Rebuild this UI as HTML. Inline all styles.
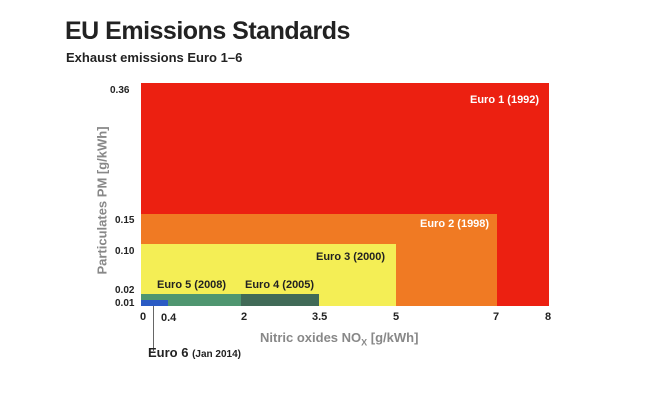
<!DOCTYPE html>
<html><head><style>
body{margin:0;background:#fff;width:650px;height:400px;overflow:hidden;position:relative;font-family:"Liberation Sans",Arial,sans-serif}
.a{position:absolute}
.b{font-weight:bold}
</style></head><body>
<div class="a b" style="left:65px;top:17px;font-size:25px;color:#222;letter-spacing:-0.5px">EU Emissions Standards</div>
<div class="a b" style="left:66px;top:50px;font-size:13px;color:#222">Exhaust emissions Euro 1–6</div>
<div class="a" style="left:141px;top:83px;width:408px;height:223px;background:#ec2011"></div>
<div class="a" style="left:141px;top:214px;width:356px;height:92px;background:#f07a23"></div>
<div class="a" style="left:141px;top:244px;width:255px;height:62px;background:#f4ee55"></div>
<div class="a" style="left:141px;top:294px;width:100px;height:12px;background:#4f9670"></div>
<div class="a" style="left:241px;top:294px;width:78px;height:12px;background:#416a57"></div>
<div class="a" style="left:141px;top:300px;width:27px;height:6px;background:#2b5bc4"></div>
<div class="a" style="left:153px;top:306px;width:1px;height:45px;background:#666"></div>
<div class="a b" style="left:470px;top:94px;font-size:11px;color:#fff">Euro 1 (1992)</div>
<div class="a b" style="left:420px;top:218px;font-size:11px;color:#fff">Euro 2 (1998)</div>
<div class="a b" style="left:316px;top:251px;font-size:11px;color:#222">Euro 3 (2000)</div>
<div class="a b" style="left:157px;top:279px;font-size:11px;color:#222">Euro 5 (2008)</div>
<div class="a b" style="left:245px;top:279px;font-size:11px;color:#222">Euro 4 (2005)</div>
<div class="a b" style="left:148px;top:345px;font-size:13px;color:#222">Euro 6 <span style="font-size:10px">(Jan 2014)</span></div>
<div class="a b" style="left:110px;top:85px;font-size:10px;color:#222">0.36</div>
<div class="a b" style="left:115px;top:215px;font-size:10px;color:#222">0.15</div>
<div class="a b" style="left:115px;top:246px;font-size:10px;color:#222">0.10</div>
<div class="a b" style="left:115px;top:285px;font-size:10px;color:#222">0.02</div>
<div class="a b" style="left:115px;top:298px;font-size:10px;color:#222">0.01</div>
<div class="a b" style="left:140px;top:311px;font-size:11px;color:#222">0</div>
<div class="a b" style="left:161px;top:312px;font-size:11px;color:#222">0.4</div>
<div class="a b" style="left:241px;top:311px;font-size:11px;color:#222">2</div>
<div class="a b" style="left:312px;top:311px;font-size:11px;color:#222">3.5</div>
<div class="a b" style="left:393px;top:311px;font-size:11px;color:#222">5</div>
<div class="a b" style="left:493px;top:311px;font-size:11px;color:#222">7</div>
<div class="a b" style="left:545px;top:311px;font-size:11px;color:#222">8</div>
<div class="a b" style="left:260px;top:330px;font-size:13px;color:#888">Nitric oxides NO<sub style="font-size:9px">X</sub> [g/kWh]</div>
<div class="a b" style="left:27px;top:193px;width:150px;text-align:center;font-size:13px;color:#888;transform:rotate(-90deg)">Particulates PM [g/kWh]</div>
</body></html>
